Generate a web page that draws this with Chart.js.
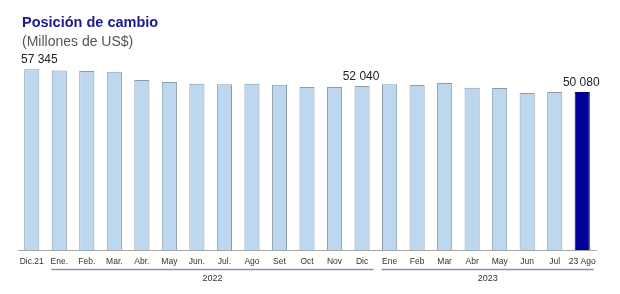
<!DOCTYPE html>
<html>
<head>
<meta charset="utf-8">
<script src="https://cdn.jsdelivr.net/npm/chart.js@4"></script>
<style>
    body { margin: 0; background: #fff; }
    #wrap { position: relative; width: 620px; height: 294px; }
    #titulo { position: absolute; left: 22px; top: 14px; font: bold 14.5px "Liberation Sans", Arial, sans-serif; color: #1a1a8c; }
    #subtitulo { position: absolute; left: 22px; top: 33px; font: 14px "Liberation Sans", Arial, sans-serif; color: #555; }
    canvas { position: absolute; left: 0; top: 0; }
</style>
</head>
<body>
<div id="wrap">
    <canvas id="grafico" width="620" height="294"></canvas>
    <div id="titulo">Posición de cambio</div>
    <div id="subtitulo">(Millones de US$)</div>
</div>
<script>
// Datos del gráfico
const meses = ["Dic.21", "Ene.", "Feb.", "Mar.", "Abr.", "May", "Jun.", "Jul.", "Ago", "Set", "Oct", "Nov", "Dic",
    "Ene", "Feb", "Mar", "Abr", "May", "Jun", "Jul", "23 Ago"];
const valores = [57345, 56900, 56800, 56500, 53900, 53300, 52700, 52600, 52700, 52400, 51700, 51700, 52040,
    52600, 52300, 53000, 51500, 51400, 49800, 50100, 50080];
// Barras con etiqueta de valor
const conEtiqueta = [0, 12, 20];
// Grupos de años debajo del eje
const anios = ["2022", "2023"];
const inicioGrupo = [1, 13];
const finGrupo = [12, 20];

const colores = valores.map((v, i) => i === valores.length - 1 ? "#000099" : "#bdd7ee");
const bordes = valores.map((v, i) => i === valores.length - 1 ? "#00007a" : "#8c9bab");

// Dibuja los valores sobre algunas barras
const pluginEtiquetas = {
    id: "etiquetas",
    afterDatasetsDraw(chart) {
        const ctx = chart.ctx;
        const meta = chart.getDatasetMeta(0);
        ctx.save();
        ctx.font = "12px 'Liberation Sans', Arial, sans-serif";
        ctx.fillStyle = "#222";
        ctx.textBaseline = "bottom";
        conEtiqueta.forEach(i => {
            const bar = meta.data[i];
            const texto = valores[i].toLocaleString("en-US").replace(",", " ");
            // la primera etiqueta va pegada al borde izquierdo
            if (i === 0) {
                ctx.textAlign = "left";
                ctx.fillText(texto, chart.chartArea.left + 3, bar.y - 3);
            } else {
                ctx.textAlign = "center";
                ctx.fillText(texto, bar.x - 1, bar.y - 3);
            }
        });
        ctx.restore();
    }
};

// Dibuja las líneas y los años debajo de los meses
const pluginAnios = {
    id: "anios",
    afterDraw(chart) {
        const ctx = chart.ctx;
        const x = chart.scales.x;
        ctx.save();
        anios.forEach((a, k) => {
            const x1 = x.getPixelForValue(inicioGrupo[k]) - 8;
            const x2 = x.getPixelForValue(finGrupo[k]) + 11.5;
            ctx.strokeStyle = "#8497b0";
            ctx.lineWidth = 1.5;
            ctx.beginPath();
            ctx.moveTo(x1, 269.5);
            ctx.lineTo(x2, 269.5);
            ctx.stroke();
            ctx.font = "9px 'Liberation Sans', Arial, sans-serif";
            ctx.fillStyle = "#333";
            ctx.textAlign = "center";
            ctx.textBaseline = "middle";
            ctx.fillText(a, (x1 + x2) / 2, 278.5);
        });
        ctx.restore();
    }
};

const ctx1 = document.getElementById("grafico").getContext("2d");
const chart1 = new Chart(ctx1, {
    type: "bar",
    data: {
        labels: meses,
        datasets: [{
            data: valores,
            backgroundColor: colores,
            borderColor: bordes,
            borderWidth: 1,
            barPercentage: 0.55,
            categoryPercentage: 1
        }]
    },
    options: {
        responsive: false,
        animation: false,
        layout: { padding: { left: 18, right: 24, top: 45, bottom: 21.5 } },
        plugins: { legend: { display: false }, tooltip: { enabled: false } },
        scales: {
            x: {
                grid: { display: false, drawTicks: false },
                border: { display: true, color: "#a6a6a6", width: 1 },
                ticks: {
                    autoSkip: false, maxRotation: 0, padding: 6,
                    color: "#333",
                    font: { family: "'Liberation Sans', Arial, sans-serif", size: 8.5 }
                }
            },
            y: {
                display: false,
                min: 0,
                max: 65000
            }
        }
    },
    plugins: [pluginEtiquetas, pluginAnios]
});
</script>
</body>
</html>
